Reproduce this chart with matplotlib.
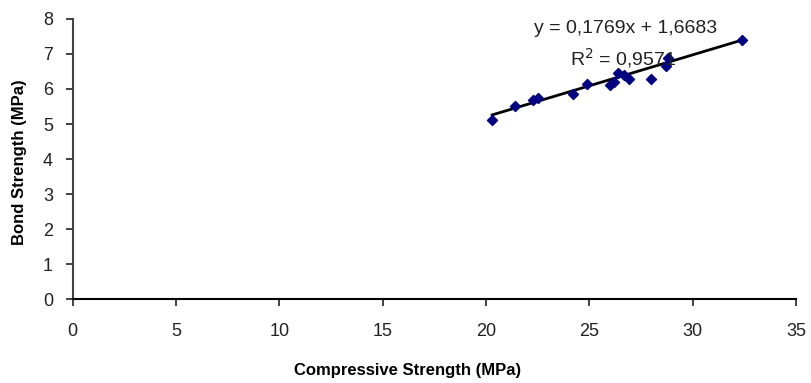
import matplotlib
matplotlib.use("Agg")
import matplotlib.pyplot as plt
import numpy as np

compressive = [20.3, 21.4, 22.3, 22.5, 24.2, 24.9, 26.0, 26.2, 26.4, 26.7, 26.9, 28.0, 28.7, 28.8, 32.4]
bond = [5.12, 5.52, 5.70, 5.75, 5.87, 6.15, 6.12, 6.20, 6.45, 6.40, 6.28, 6.28, 6.65, 6.88, 7.40]
slope, intercept = 0.1769, 1.6683
eq_text = "y = 0,1769x + 1,6683"
r2_text = "R$^2$ = 0,9571"
xticks = [0, 5, 10, 15, 20, 25, 30, 35]
yticks = [0, 1, 2, 3, 4, 5, 6, 7, 8]

plt.rcParams['font.family'] = ['Liberation Sans', 'DejaVu Sans']
fig = plt.figure(figsize=(8.11, 3.83), dpi=100)
ax = fig.add_axes([0.0894, 0.2193, 0.8921, 0.7311])

xs = np.array([min(compressive), max(compressive)])
ax.plot(xs, slope * xs + intercept, color='black', lw=2, zorder=2)
ax.scatter(compressive, bond, marker='D', s=26, color='#000080', zorder=3)

ax.set_xlim(0, 35)
ax.set_ylim(0, 8)
ax.set_xticks(xticks)
ax.set_yticks(yticks)
for s in ['top', 'right']:
    ax.spines[s].set_visible(False)
ax.spines['left'].set_color('#444444')
ax.spines['bottom'].set_color('black')
ax.spines['left'].set_linewidth(1.5)
ax.spines['bottom'].set_linewidth(1.5)
ax.tick_params(axis='both', direction='out', length=5, width=1.2, labelsize=13, colors='#222222', pad=9)
ax.tick_params(axis='x', pad=12)

lab_font = dict(family=['Liberation Sans Narrow', 'Liberation Sans', 'DejaVu Sans'], fontweight='bold', fontsize=12)
ax.set_xlabel("Compressive Strength (MPa)", **lab_font)
ax.set_ylabel("Bond Strength (MPa)", **lab_font)
ax.xaxis.set_label_coords(0.4637, -0.254)
ax.yaxis.set_label_coords(-0.073, 0.49)
ax.xaxis.label.set_va('center')
ax.yaxis.label.set_va('center')

ax.text(26.74, 7.74, eq_text, fontsize=14, color='#222222', ha='center', va='center')
ax.text(26.65, 6.89, r2_text, fontsize=14, color='#222222', ha='center', va='center')

fig.savefig("out.png", dpi=100)
